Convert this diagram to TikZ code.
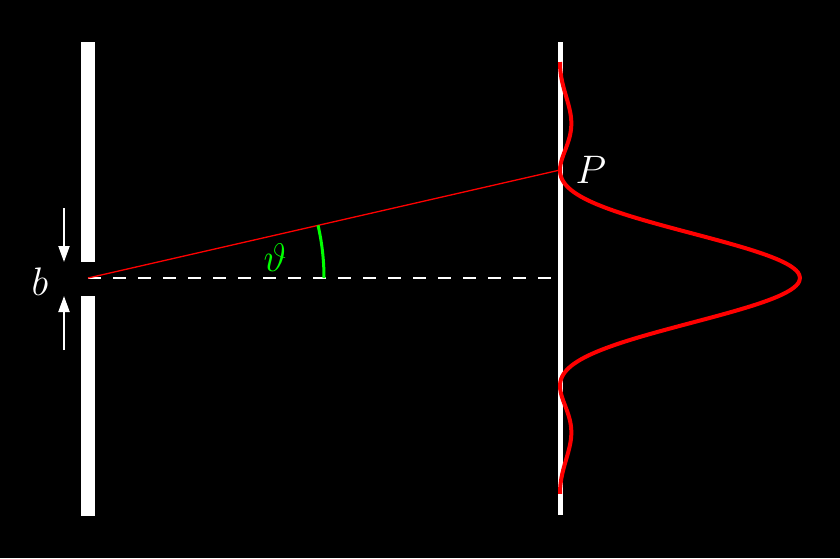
\documentclass[tikz,border=0pt]{standalone}
\usepackage{graphicx}
\usetikzlibrary{arrows.meta}
\newcommand{\biglbl}[1]{\scalebox{1.6}{\Huge$#1$}}
\begin{document}
\begin{tikzpicture}[x=1pt,y=-1pt,
  wall/.style={fill=white,draw=none},
  lbl/.style={text=white},
  dimarrow/.style={white,line width=2pt,-{Triangle[width=11pt,length=16pt]}}]
\fill[black] (0,0) rectangle (840,558);
\useasboundingbox (0,0) rectangle (840,558);
% slit walls
\fill[wall] (81,42) rectangle (95,262);
\fill[wall] (81,296) rectangle (95,516);
% screen
\coordinate (scrtop) at (560.5,42);
\coordinate (scrbot) at (560.5,515);
\draw[white,line width=5pt] (scrtop) -- (scrbot);
% key points
\coordinate (slit) at (88,278);
\coordinate (P) at (560,170);
\coordinate (dashend) at (552,278);
% intensity curve
\draw[red,line width=4pt,line join=round] plot[domain=-2:2,samples=200,smooth]
  ({560+240*(sin(180*\x)/(pi*\x))^2},{278+108*\x});
% dashed axis
\draw[white,line width=2pt,dash pattern=on 13pt off 12pt] (slit) -- (dashend);
% ray to P
\draw[red,line width=1.3pt] (slit) -- (P);
% angle arc
\draw[green,line width=3pt] ([shift={(236,0)}]slit) arc[start angle=0,end angle=-12.9,radius=236];
\node[text=green] (theta) at (275,258) {\biglbl{\vartheta}};
% labels
\node[lbl] (Plbl) at (591,170) {\biglbl{P}};
\node[lbl] (blbl) at (40,282) {\biglbl{b}};
% dimension arrows
\coordinate (a1s) at (64,208);
\coordinate (a1e) at (64,262);
\coordinate (a2s) at (64,350);
\coordinate (a2e) at (64,296);
\draw[dimarrow] (a1s) -- (a1e);
\draw[dimarrow] (a2s) -- (a2e);
\end{tikzpicture}
\end{document}
